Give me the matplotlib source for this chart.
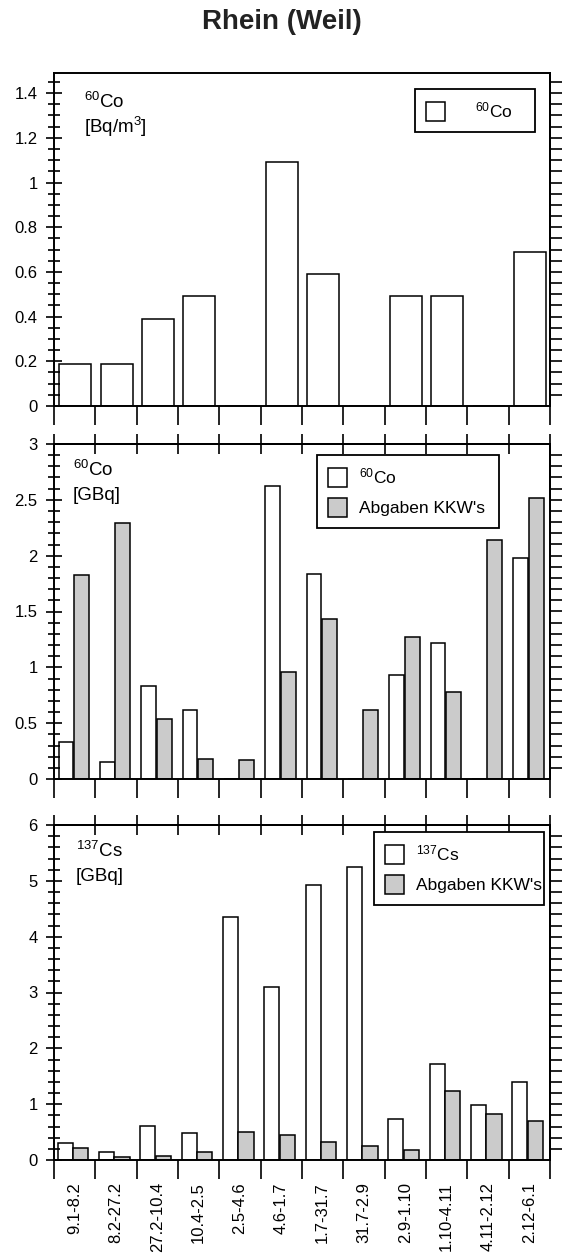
import numpy as np
import matplotlib
matplotlib.use("Agg")
import matplotlib.pyplot as plt
from matplotlib.ticker import MultipleLocator, NullFormatter, FixedLocator

plt.rcParams['font.family'] = ['Liberation Sans', 'DejaVu Sans']
plt.rcParams['mathtext.fontset'] = 'custom'
plt.rcParams['mathtext.rm'] = 'Liberation Sans'
plt.rcParams['mathtext.it'] = 'Liberation Sans'

# data
periods = ['9.1-8.2', '8.2-27.2', '27.2-10.4', '10.4-2.5', '2.5-4.6', '4.6-1.7',
           '1.7-31.7', '31.7-2.9', '2.9-1.10', '1.10-4.11', '4.11-2.12', '2.12-6.1']
co60_conc = [0.19, 0.19, 0.39, 0.49, 0, 1.09, 0.59, 0, 0.49, 0.49, 0, 0.69]
co60_gbq = [0.33, 0.15, 0.83, 0.62, 0, 2.62, 1.84, 0, 0.93, 1.22, 0, 1.98]
co60_kkw = [1.83, 2.29, 0.54, 0.18, 0.17, 0.96, 1.43, 0.62, 1.27, 0.78, 2.14, 2.52]
cs137_gbq = [0.31, 0.14, 0.61, 0.48, 4.35, 3.09, 4.92, 5.24, 0.73, 1.72, 0.98, 1.40]
cs137_kkw = [0.22, 0.05, 0.08, 0.14, 0.51, 0.44, 0.32, 0.25, 0.18, 1.24, 0.82, 0.70]

yticks_top = [0, 0.2, 0.4, 0.6, 0.8, 1, 1.2, 1.4]
yticks_mid = [0, 0.5, 1, 1.5, 2, 2.5, 3]
yticks_bot = [0, 1, 2, 3, 4, 5, 6]

gray = '#cbcbcb'
lw = 1.4

fig = plt.figure(figsize=(5.64, 12.56), dpi=100)
fig.text(0.5, 1 - 29 / 1256, 'Rhein (Weil)', ha='center', va='baseline',
         fontsize=20, fontweight='bold', color='#222222')

L, W = 54 / 564, 496 / 564
ax1 = fig.add_axes([L, 1 - 406 / 1256, W, 333 / 1256])
ax2 = fig.add_axes([L, 1 - 779 / 1256, W, 335 / 1256])
ax3 = fig.add_axes([L, 1 - 1160 / 1256, W, 335 / 1256])

n = len(periods)
idx = np.arange(n)
bounds = np.arange(n + 1)

# bars
ax1.bar(idx + 0.13, co60_conc, width=0.77, align='edge', facecolor='white',
        edgecolor='black', linewidth=1.1, label='$^{60}$Co')
ax2.bar(idx + 0.11, co60_gbq, width=0.36, align='edge', facecolor='white',
        edgecolor='black', linewidth=1.1, label='$^{60}$Co')
ax2.bar(idx + 0.48, co60_kkw, width=0.37, align='edge', facecolor=gray,
        edgecolor='black', linewidth=1.1, label="Abgaben KKW's")
ax3.bar(idx + 0.09, cs137_gbq, width=0.36, align='edge', facecolor='white',
        edgecolor='black', linewidth=1.1, label='$^{137}$Cs')
ax3.bar(idx + 0.46, cs137_kkw, width=0.37, align='edge', facecolor=gray,
        edgecolor='black', linewidth=1.1, label="Abgaben KKW's")

panels = [
    (ax1, 1.49, yticks_top, 0.05, ('$^{60}$Co', '[Bq/m$^3$]'), 84, (35, 60), (0.728, 0.952, 0.242)),
    (ax2, 3.0, yticks_mid, 0.1, ('$^{60}$Co', '[GBq]'), 73, (32, 56), (0.530, 0.967, 0.367)),
    (ax3, 6.0, yticks_bot, 0.2, ('$^{137}$Cs', '[GBq]'), 76, (32, 56), (0.645, 0.979, 0.343)),
]

for k, (ax, ymax, yt, step, ann, annx, anny, leg) in enumerate(panels):
    ax.set_xlim(0, n)
    ax.set_ylim(0, ymax)
    for s in ax.spines.values():
        s.set_linewidth(lw)

    # y ticks left
    ax.set_yticks(yt, labels=[f'{v:g}' for v in yt])
    ax.yaxis.set_minor_locator(MultipleLocator(step))
    ax.tick_params(axis='y', which='major', direction='inout', length=11.5,
                   width=1.2, labelsize=12, pad=6, right=False)
    ax.tick_params(axis='y', which='minor', direction='inout', length=8,
                   width=1.2, right=False)

    # right ticks, outward
    sy = ax.secondary_yaxis('right')
    rt = np.arange(step, ymax - step / 2, step)
    sy.yaxis.set_major_locator(FixedLocator(rt))
    sy.yaxis.set_major_formatter(NullFormatter())
    sy.tick_params(direction='out', length=8.5, width=1.2)
    sy.spines['right'].set_linewidth(lw)

    # x ticks at category boundaries
    ax.set_xticks(bounds, labels=[''] * len(bounds))
    ax.tick_params(axis='x', which='major', direction='out', length=13.5,
                   width=1.2, top=False)
    if k > 0:
        sx = ax.secondary_xaxis('top')
        sx.xaxis.set_major_locator(FixedLocator(bounds))
        sx.xaxis.set_major_formatter(NullFormatter())
        sx.tick_params(direction='inout', length=14.5, width=1.2)
        sx.spines['top'].set_linewidth(lw)

    # panel annotation
    axb = ax.get_position()
    fx = annx / 564
    top_px = (1 - axb.y1) * 1256
    fig.text(fx, 1 - (top_px + anny[0]) / 1256, ann[0], fontsize=13.5, va='baseline')
    fig.text(fx, 1 - (top_px + anny[1]) / 1256, ann[1], fontsize=13.5, va='baseline')

    lg = ax.legend(loc='upper left', bbox_to_anchor=(leg[0], leg[1], leg[2], 0),
                   mode='expand', borderaxespad=0, fancybox=False,
                   edgecolor='black', fontsize=12.5, handlelength=1.1,
                   handleheight=1.35, handletextpad=0.65 if k > 0 else 1.7,
                   borderpad=0.65, labelspacing=0.6, framealpha=1)
    lg.get_frame().set_linewidth(1.3)

ax3.set_xticks(idx + 0.5, labels=periods, minor=True, rotation=90, fontsize=12)
ax3.tick_params(axis='x', which='minor', length=0, pad=16)
for t in ax3.get_xticklabels(minor=True):
    t.set_va('top')

fig.savefig('out.png', dpi=100)
